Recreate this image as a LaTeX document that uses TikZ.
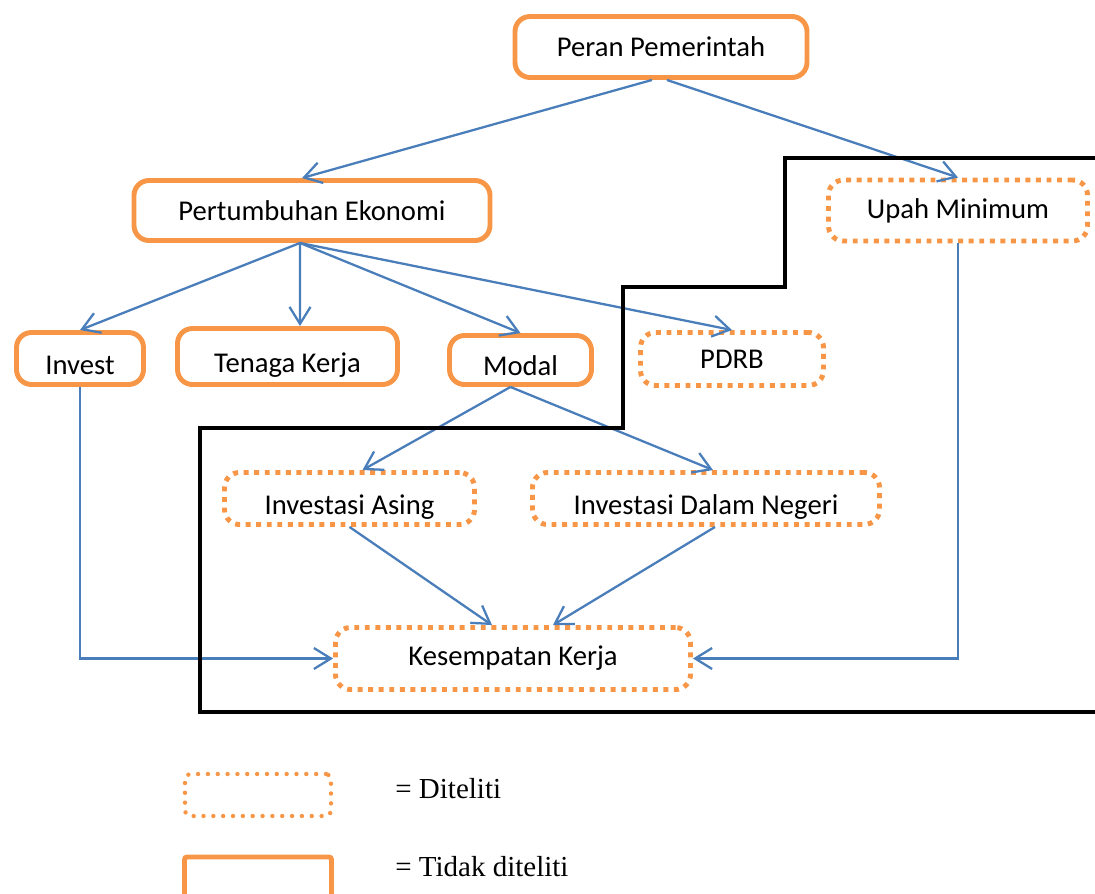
\documentclass[tikz,border=0pt]{standalone}
\usepackage{fontspec}
\setmainfont{Carlito}
\newfontfamily\legendfont{Liberation Serif}
\usetikzlibrary{positioning,arrows.meta}

\definecolor{boxorange}{HTML}{F79646}
\definecolor{arrowblue}{HTML}{4A7EBB}

\tikzset{
  box/.style={rounded corners=0.3cm, inner sep=0pt, font=\fontsize{16.3}{19.6}\selectfont},
  tidak/.style={box, draw=boxorange, line width=2.8pt},
  diteliti/.style={box, draw=boxorange, line width=2.8pt, dash pattern=on 2.8pt off 3.2pt},
  low/.style={text height=22pt, text depth=4pt},
  arr/.style={draw=arrowblue, line width=1.3pt, -{Straight Barb[length=0.34cm,width=0.42cm]}},
  border/.style={black, line width=2pt},
}

\begin{document}
\begin{tikzpicture}[on grid]
  \useasboundingbox (0,0) rectangle (21.9,-17.86);

  % Define nodes
  \node[tidak, minimum width=5.84cm, minimum height=1.22cm]  (peran) at (13.22,-0.94) {Peran Pemerintah};
  \node[tidak, minimum width=7.12cm, minimum height=1.20cm, below left=3.27cm and 6.98cm of peran]   (p_e) {Pertumbuhan Ekonomi};
  \node[diteliti, minimum width=5.18cm, minimum height=1.22cm, below right=3.27cm and 5.94cm of peran] (u_m) {Upah Minimum};
  \node[tidak, low, minimum width=2.54cm, minimum height=1.04cm, below left=2.96cm and 4.64cm of p_e]     (inv) {Invest};
  \node[tidak, low, minimum width=4.40cm, minimum height=1.12cm, below left=2.92cm and 0.49cm of p_e]     (t_k) {Tenaga Kerja};
  \node[tidak, low, minimum width=2.84cm, minimum height=0.98cm, below right=2.99cm and 4.17cm of p_e]    (modal) {Modal};
  \node[diteliti, minimum width=3.66cm, minimum height=1.06cm, below right=2.97cm and 8.40cm of p_e] (pdrb) {PDRB};
  \node[diteliti, low, minimum width=5.00cm, minimum height=1.04cm, below left=2.77cm and 3.42cm of modal]  (i_a) {Investasi Asing};
  \node[diteliti, low, minimum width=6.94cm, minimum height=1.04cm, below right=2.77cm and 3.71cm of modal] (i_dn) {Investasi Dalam Negeri};
  \node[diteliti, minimum width=7.10cm, minimum height=1.24cm, below left=5.97cm and 0.15cm of modal]  (k_k) {Kesempatan Kerja};

  % Legend
  \node[box, draw=boxorange, line width=2.5pt, dash pattern=on 0pt off 5.6pt, line cap=round, rounded corners=0.1cm,
        minimum width=2.92cm, minimum height=0.84cm, below left=2.73cm and 5.1cm of k_k] (leg_d) {};
  \node[box, draw=boxorange, line width=2.8pt, rounded corners=0.05cm,
        minimum width=2.94cm, minimum height=0.9cm, below=1.69cm of leg_d] (leg_t) {};
  \node[inner sep=0pt, font=\legendfont\fontsize{16.5}{19.8}\selectfont, right=2.74cm of leg_d, anchor=west, yshift=0.12cm] (lab_d) {= Diteliti};
  \node[inner sep=0pt, font=\legendfont\fontsize{16.5}{19.8}\selectfont, below=1.56cm of lab_d.west, anchor=west] (lab_t) {= Tidak diteliti};

  % Connect the nodes
  \draw[arr] ([xshift=-0.18cm]peran.south) -- ([xshift=-0.2cm]p_e.north);
  \draw[arr] ([xshift=0.12cm]peran.south) -- (u_m.north);
  \coordinate (pe_out) at ([xshift=-0.24cm]p_e.south);
  \foreach \n in {inv,modal,pdrb}
    \draw[arr] (pe_out) -- (\n.north);
  \draw[arr] (pe_out) -- ([xshift=0.25cm]t_k.north);
  \draw[arr] ([xshift=-0.2cm]modal.south) -- ([xshift=0.26cm]i_a.north);
  \draw[arr] ([xshift=-0.2cm]modal.south) -- ([xshift=0.14cm]i_dn.north);
  \draw[arr] (i_a.south) -- ([xshift=-0.42cm]k_k.north);
  \draw[arr] ([xshift=0.18cm]i_dn.south) -- ([xshift=0.8cm]k_k.north);
  \draw[arr] (inv.south) |- (k_k.west);
  \draw[arr] (u_m.south) |- (k_k.east);

  % Research boundary
  \draw[border] (22.2,-14.24) -| (4.0,-8.56) -| (12.46,-5.74) -| (15.7,-3.16) -- (22.2,-3.16);

\end{tikzpicture}
\end{document}
